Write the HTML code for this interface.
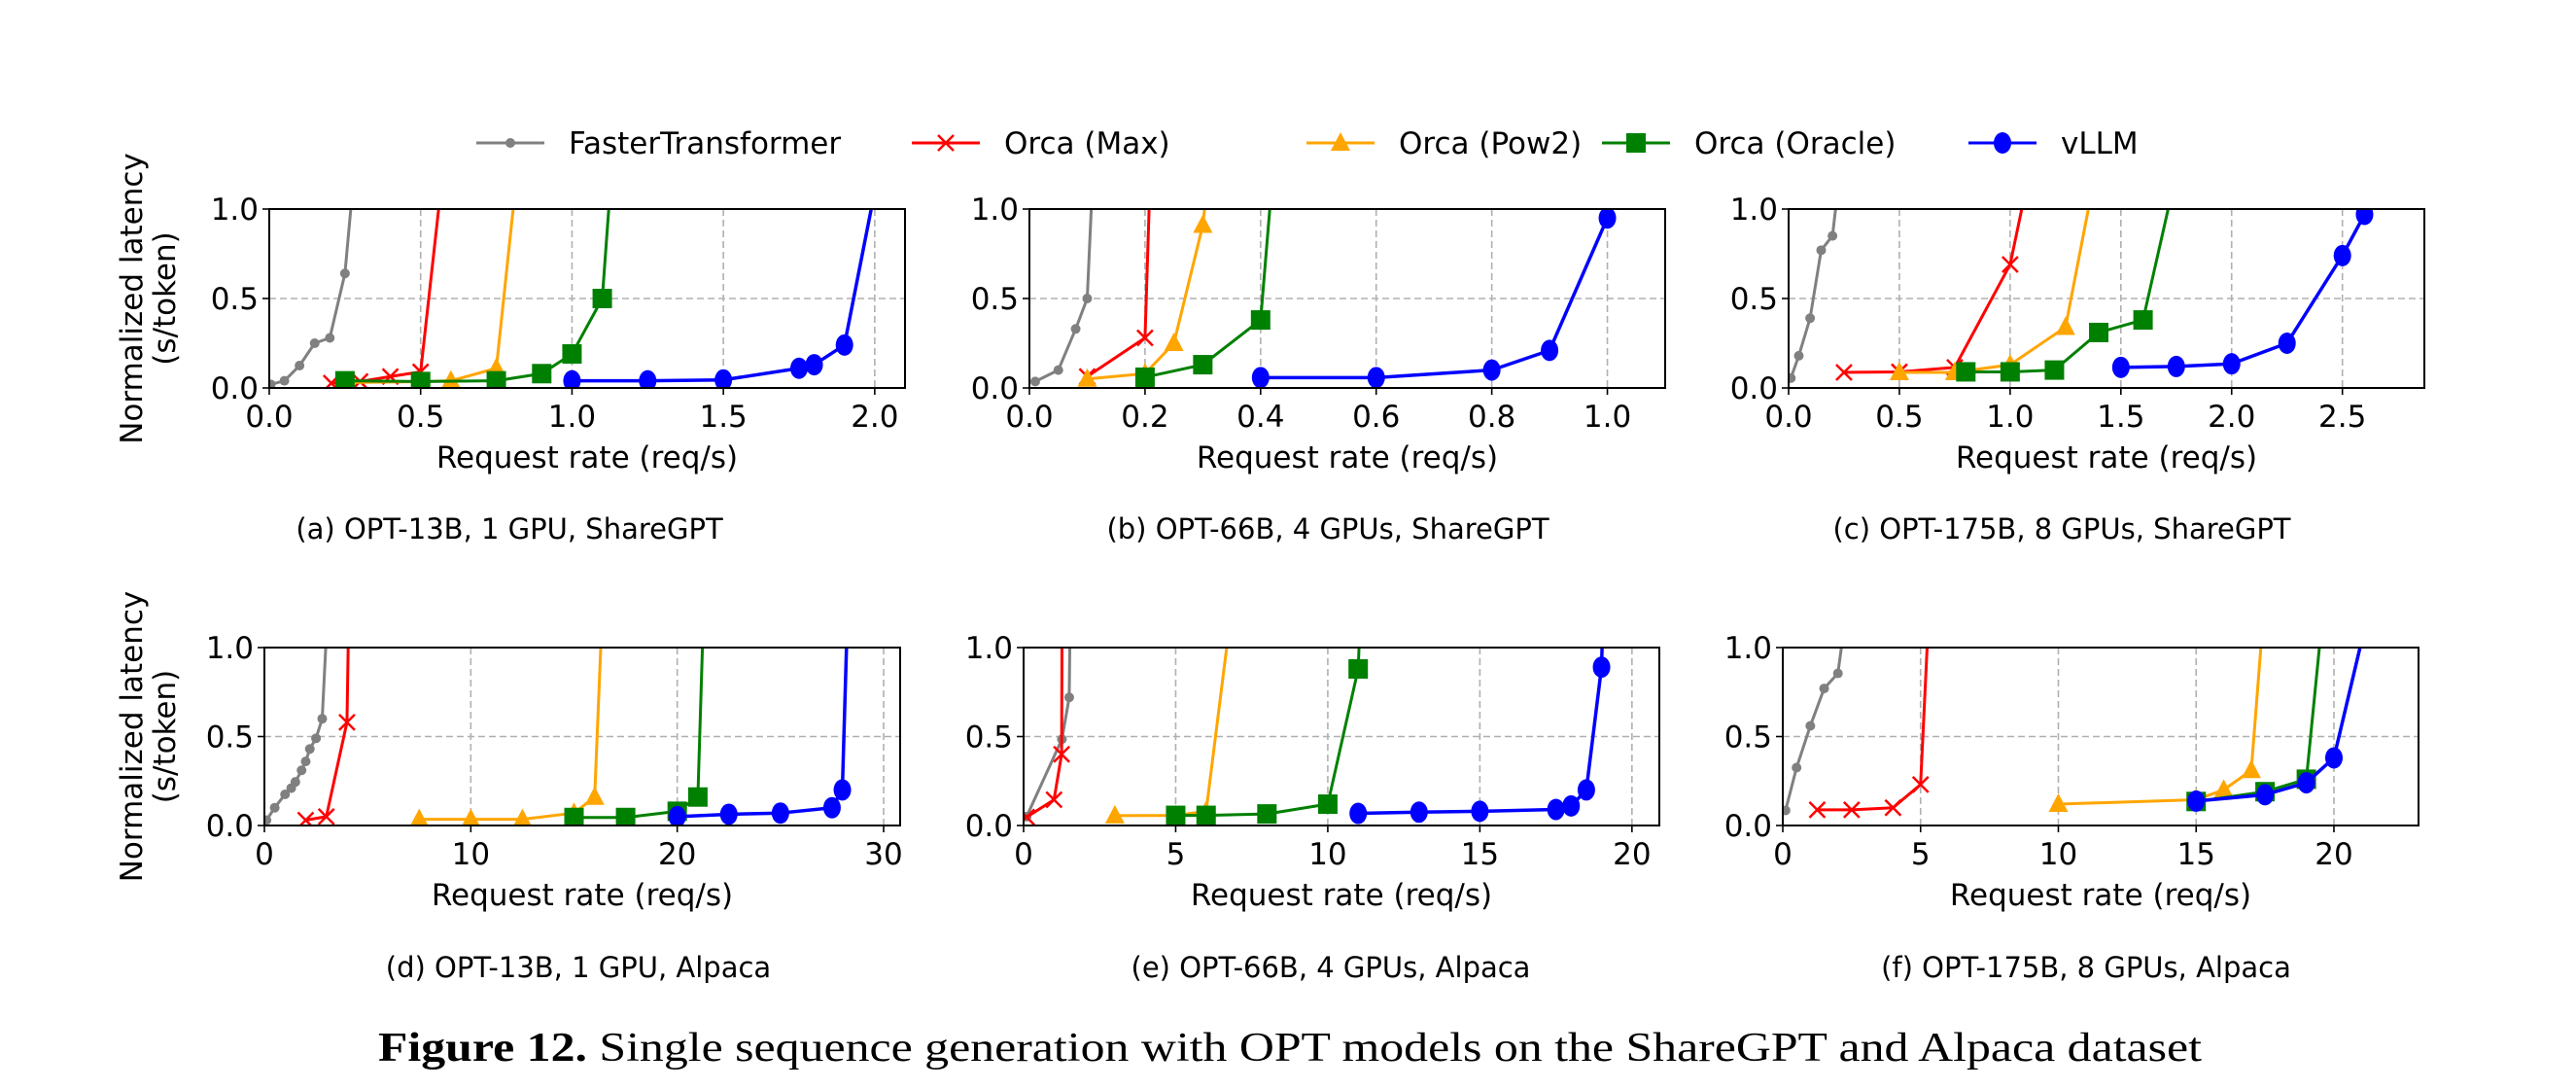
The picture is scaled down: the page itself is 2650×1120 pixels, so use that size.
<!DOCTYPE html>
<html><head><meta charset="utf-8"><style>
html,body{margin:0;padding:0;background:#fff;}
svg{display:block;}
text{font-family:"DejaVu Sans","Liberation Sans",sans-serif;fill:#000;}
</style></head><body>
<svg id="fig" width="2650" height="1120" viewBox="0 0 2650 1120" xmlns="http://www.w3.org/2000/svg">
<g id="legend"></g>
<g id="panels"></g>
<text x="389" y="1091" textLength="1876" lengthAdjust="spacingAndGlyphs" style="font-family:'Liberation Serif',serif;font-size:42px;"><tspan font-weight="bold">Figure 12.</tspan> Single sequence generation with OPT models on the ShareGPT and Alpaca dataset</text>
</svg>
<script>
// ---- Panel (a) ----
const aFTx=[0.005,0.05,0.10,0.15,0.20,0.25,0.28];
const aFTy=[0.02,0.04,0.125,0.25,0.28,0.64,1.2];
const aMaxx=[0.205,0.30,0.40,0.50,0.57];
const aMaxy=[0.027,0.036,0.064,0.09,1.16];
const aPowx=[0.25,0.5,0.6,0.75,0.82];
const aPowy=[0.03,0.035,0.04,0.11,1.23];
const aOrcx=[0.25,0.5,0.75,0.9,1.0,1.1,1.13];
const aOrcy=[0.04,0.036,0.04,0.08,0.19,0.5,1.2];
const aVx=[1.0,1.25,1.5,1.75,1.8,1.9,2.0];
const aVy=[0.04,0.04,0.045,0.11,0.13,0.24,1.1];
const aTicks=[0,0.5,1.0,1.5,2.0];
const aTickLabels=["0.0","0.5","1.0","1.5","2.0"];
// ---- Panel (b) ----
const bFTx=[0.01,0.05,0.08,0.10,0.12];
const bFTy=[0.036,0.10,0.33,0.50,1.93];
const bMaxx=[0.10,0.20,0.21];
const bMaxy=[0.064,0.28,1.3];
const bPowx=[0.10,0.20,0.25,0.30,0.31];
const bPowy=[0.05,0.08,0.25,0.91,1.2];
const bOrcx=[0.2,0.3,0.4,0.42];
const bOrcy=[0.06,0.13,0.38,1.16];
const bVx=[0.4,0.6,0.8,0.9,1.0,1.02];
const bVy=[0.058,0.058,0.10,0.21,0.95,1.1];
const bTicks=[0,0.2,0.4,0.6,0.8,1.0];
const bTickLabels=["0.0","0.2","0.4","0.6","0.8","1.0"];
// ---- Panel (c) ----
const cFTx=[0.01,0.046,0.097,0.147,0.198,0.24];
const cFTy=[0.055,0.18,0.39,0.77,0.85,1.3];
const cMaxx=[0.25,0.5,0.75,1.0,1.1];
const cMaxy=[0.087,0.09,0.115,0.69,1.28];
const cPowx=[0.5,0.75,1.0,1.25,1.4];
const cPowy=[0.087,0.087,0.13,0.34,1.3];
const cOrcx=[0.8,1.0,1.2,1.4,1.6,1.75];
const cOrcy=[0.09,0.09,0.10,0.31,0.38,1.2];
const cVx=[1.5,1.75,2.0,2.25,2.5,2.6];
const cVy=[0.115,0.12,0.135,0.25,0.74,0.97];
const cTicks=[0,0.5,1.0,1.5,2.0,2.5];
const cTickLabels=["0.0","0.5","1.0","1.5","2.0","2.5"];
// ---- Panel (d) ----
const dFTx=[0.1,0.5,1.0,1.3,1.5,1.8,2.0,2.2,2.5,2.8,3.1];
const dFTy=[0.03,0.1,0.175,0.21,0.245,0.31,0.36,0.43,0.49,0.6,1.3];
const dMaxx=[2.0,3.0,4.0,4.1];
const dMaxy=[0.03,0.05,0.58,1.3];
const dPowx=[7.5,10,12.5,15,16,16.4];
const dPowy=[0.035,0.035,0.035,0.07,0.16,1.3];
const dOrcx=[15,17.5,20,21,21.3];
const dOrcy=[0.045,0.045,0.08,0.16,1.3];
const dVx=[20,22.5,25,27.5,28,28.3];
const dVy=[0.05,0.063,0.07,0.1,0.2,1.4];
const dTicks=[0,10,20,30];
const dTickLabels=["0","10","20","30"];
// ---- Panel (e) ----
const eFTx=[0.1,1.26,1.5,1.55];
const eFTy=[0.05,0.485,0.72,1.5];
const eMaxx=[0.1,1.0,1.25,1.27];
const eMaxy=[0.047,0.145,0.4,1.4];
const ePowx=[3,5,6,6.75];
const ePowy=[0.055,0.057,0.08,1.1];
const eOrcx=[5,6,8,10,11,11.05];
const eOrcy=[0.057,0.057,0.065,0.12,0.88,1.1];
const eVx=[11,13,15,17.5,18,18.5,19,19.05];
const eVy=[0.068,0.075,0.08,0.09,0.11,0.2,0.89,1.2];
const eTicks=[0,5,10,15,20];
const eTickLabels=["0","5","10","15","20"];
// ---- Panel (f) ----
const fFTx=[0.1,0.5,1.0,1.5,2.0,2.3];
const fFTy=[0.085,0.325,0.56,0.77,0.855,1.2];
const fMaxx=[1.25,2.5,4,5,5.3];
const fMaxy=[0.088,0.088,0.1,0.23,1.2];
const fPowx=[10,15,16,17,17.4];
const fPowy=[0.12,0.145,0.2,0.31,1.1];
const fOrcx=[15,17.5,19,19.6];
const fOrcy=[0.135,0.19,0.26,1.2];
const fVx=[15,17.5,19,20,21.1];
const fVy=[0.137,0.173,0.24,0.38,1.1];
const fTicks=[0,5,10,15,20];
const fTickLabels=["0","5","10","15","20"];

const yTicks=[0,0.5,1.0];
const yTickLabels=["0.0","0.5","1.0"];
const seriesNames=["FasterTransformer","Orca (Max)","Orca (Pow2)","Orca (Oracle)","vLLM"];
const captions=["(a) OPT-13B, 1 GPU, ShareGPT","(b) OPT-66B, 4 GPUs, ShareGPT","(c) OPT-175B, 8 GPUs, ShareGPT","(d) OPT-13B, 1 GPU, Alpaca","(e) OPT-66B, 4 GPUs, Alpaca","(f) OPT-175B, 8 GPUs, Alpaca"];

const NS="http://www.w3.org/2000/svg";
const colors=["#808080","#ff0000","#ffa500","#008000","#0000ff"];
const keys=["ft","max","pow2","oracle","vllm"];
function mk(tag,attrs,parent){const e=document.createElementNS(NS,tag);for(const k in attrs)e.setAttribute(k,attrs[k]);if(parent)parent.appendChild(e);return e;}
function marker(g,kind,cx,cy,col){
  let m;
  if(kind===0){m=mk('circle',{cx:cx,cy:cy,r:5,fill:col},g);}
  else if(kind===1){m=mk('path',{d:`M${cx-8},${cy-8}L${cx+8},${cy+8}M${cx-8},${cy+8}L${cx+8},${cy-8}`,stroke:col,'stroke-width':2.5,fill:'none'},g);}
  else if(kind===2){m=mk('path',{d:`M${cx},${cy-11}L${cx+10},${cy+8}L${cx-10},${cy+8}Z`,fill:col},g);}
  else if(kind===3){m=mk('rect',{x:cx-10,y:cy-10,width:20,height:20,fill:col},g);}
  else {m=mk('ellipse',{cx:cx,cy:cy,rx:9,ry:11,fill:col},g);}
  return m;
}
const svg=document.getElementById('fig');
const panelsG=document.getElementById('panels');

const panels=[
 {id:'a',left:277,top:215,h:184,xmax:2.10,cap:524,ticks:aTicks,labels:aTickLabels,s:[[aFTx,aFTy],[aMaxx,aMaxy],[aPowx,aPowy],[aOrcx,aOrcy],[aVx,aVy]]},
 {id:'b',left:1059,top:215,h:184,xmax:1.10,cap:1366,ticks:bTicks,labels:bTickLabels,s:[[bFTx,bFTy],[bMaxx,bMaxy],[bPowx,bPowy],[bOrcx,bOrcy],[bVx,bVy]]},
 {id:'c',left:1840,top:215,h:184,xmax:2.87,cap:2121,ticks:cTicks,labels:cTickLabels,s:[[cFTx,cFTy],[cMaxx,cMaxy],[cPowx,cPowy],[cOrcx,cOrcy],[cVx,cVy]]},
 {id:'d',left:272,top:666,h:183,xmax:30.8,cap:595,ticks:dTicks,labels:dTickLabels,s:[[dFTx,dFTy],[dMaxx,dMaxy],[dPowx,dPowy],[dOrcx,dOrcy],[dVx,dVy]]},
 {id:'e',left:1053,top:666,h:183,xmax:20.9,cap:1369,ticks:eTicks,labels:eTickLabels,s:[[eFTx,eFTy],[eMaxx,eMaxy],[ePowx,ePowy],[eOrcx,eOrcy],[eVx,eVy]]},
 {id:'f',left:1834,top:666,h:183,xmax:23.07,cap:2146,ticks:fTicks,labels:fTickLabels,s:[[fFTx,fFTy],[fMaxx,fMaxy],[fPowx,fPowy],[fOrcx,fOrcy],[fVx,fVy]]}
];
const W=654;
const defs=mk('defs',{},svg);
panels.forEach((p,pi)=>{
  const g=mk('g',{},panelsG);
  
  
  const X=v=>p.left+v/p.xmax*W;
  const Y=v=>p.top+p.h-v*p.h;
  const bottom=p.top+p.h;
  p.ticks.forEach((t,i)=>{
    if(t>0){const gl=mk('line',{x1:X(t),x2:X(t),y1:p.top,y2:bottom,stroke:'#b0b0b0','stroke-width':1.6,'stroke-dasharray':'7,4'},g);
    
    }
    const tk=mk('line',{x1:X(t),x2:X(t),y1:bottom,y2:bottom+7,stroke:'#000','stroke-width':1.6},g);
    
    
    const tl=mk('text',{x:X(t),y:bottom+40,'text-anchor':'middle','font-size':31},g);
    tl.textContent=p.labels[i];
    
    
  });
  yTicks.forEach((t,i)=>{
    if(t>0&&t<1){const gl=mk('line',{x1:p.left,x2:p.left+W,y1:Y(t),y2:Y(t),stroke:'#b0b0b0','stroke-width':1.6,'stroke-dasharray':'7,4'},g);
    
    }
    const tk=mk('line',{x1:p.left-7,x2:p.left,y1:Y(t),y2:Y(t),stroke:'#000','stroke-width':1.6},g);
    
    
    const tl=mk('text',{x:p.left-11,y:Y(t)+11,'text-anchor':'end','font-size':31},g);
    tl.textContent=yTickLabels[i];
    
    
  });
  const cp=mk('clipPath',{id:'clip'+p.id},defs);
  mk('rect',{x:p.left,y:p.top,width:W,height:p.h},cp);
  const dg=mk('g',{'clip-path':'url(#clip'+p.id+')'},g);
  p.s.forEach((s,si)=>{
    const sg=mk('g',{},dg);
    
    
    const pts=s[0].map((x,i)=>X(x)+','+Y(s[1][i])).join(' ');
    const pl=mk('polyline',{points:pts,fill:'none',stroke:colors[si],'stroke-width':si===4?3.5:3,'stroke-linejoin':'round'},sg);
    
    
    s[0].forEach((x,i)=>{
      const m=marker(sg,si,X(x),Y(s[1][i]),colors[si]);
      
      
    });
  });
  const fr=mk('rect',{x:p.left,y:p.top,width:W,height:p.h,fill:'none',stroke:'#000','stroke-width':2},g);
  
  
  const xl=mk('text',{x:p.left+W/2,y:bottom+82,'text-anchor':'middle','font-size':31},g);
  xl.textContent='Request rate (req/s)';
  
  
  const cap=mk('text',{x:p.cap,y:(pi<3?543:994)+11,'text-anchor':'middle','font-size':29},g);
  cap.textContent=captions[pi];
  
  
  if(pi===0||pi===3){
    const cy=p.top+p.h/2;
    const t1=mk('text',{x:0,y:0,'text-anchor':'middle','font-size':31,transform:`translate(146,${cy}) rotate(-90)`},g);
    t1.textContent='Normalized latency';
    
    
    const t2=mk('text',{x:0,y:0,'text-anchor':'middle','font-size':31,transform:`translate(180,${cy}) rotate(-90)`},g);
    t2.textContent='(s/token)';
    
    
  }
});
const lg=document.getElementById('legend');
const legX=[490,938,1344,1648,2025];
seriesNames.forEach((n,i)=>{
  const eg=mk('g',{},lg);
  
  
  mk('line',{x1:legX[i],x2:legX[i]+70,y1:147,y2:147,stroke:colors[i],'stroke-width':3},eg);
  marker(eg,i,legX[i]+35,147,colors[i]);
  const t=mk('text',{x:legX[i]+95,y:158,'font-size':31},eg);
  t.textContent=n;
});
</script>
</body></html>
